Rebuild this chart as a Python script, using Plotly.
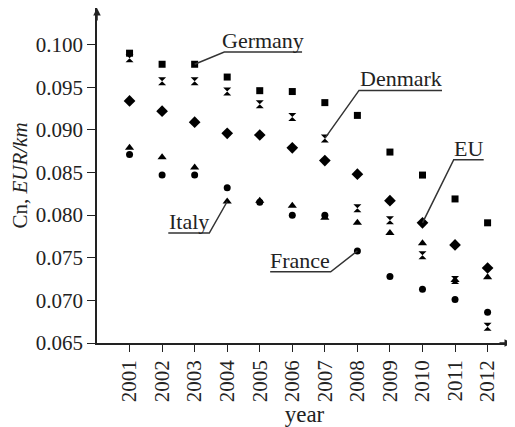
import plotly.graph_objects as go

years = list(range(2001, 2013))
germany = [0.0990, 0.0977, 0.0977, 0.0962, 0.0946, 0.0945, 0.0932, 0.0917, 0.0874, 0.0847, 0.0819, 0.0791]
denmark = [0.0984, 0.0957, 0.0957, 0.0945, 0.0930, 0.0915, 0.0890, 0.0808, 0.0794, 0.0753, 0.0724, 0.0669]
eu = [0.0934, 0.0922, 0.0909, 0.0896, 0.0894, 0.0879, 0.0864, 0.0848, 0.0817, 0.0791, 0.0765, 0.0738]
italy = [0.0879, 0.0868, 0.0856, 0.0816, 0.0817, 0.0811, 0.0797, 0.0791, 0.0779, 0.0767, 0.0724, 0.0727]
france = [0.0871, 0.0847, 0.0847, 0.0832, 0.0815, 0.0800, 0.0800, 0.0758, 0.0728, 0.0713, 0.0701, 0.0686]

series = [
    ("Germany", germany, "square", 7),
    ("Denmark", denmark, "hourglass", 8),
    ("EU", eu, "diamond", 9),
    ("Italy", italy, "triangle-up", 8),
    ("France", france, "circle", 7),
]

# label callouts: (name, values, year index, elbow x, elbow/underline y, underline end x)
callouts = [
    ("Germany", germany, 2, 2003.91, 0.09914, 2006.30),
    ("Denmark", denmark, 6, 2008.05, 0.09463, 2010.60),
    ("EU", eu, 9, 2010.96, 0.08650, 2011.88),
    ("France", france, 7, 2007.18, 0.07335, 2005.32),
    ("Italy", italy, 3, 2003.45, 0.07789, 2002.19),
]

fig = go.Figure()
for name, vals, sym, size in series:
    fig.add_trace(go.Scatter(x=years, y=vals, mode="markers", name=name,
                             marker=dict(symbol=sym, size=size, color="black",
                                         line=dict(width=0))))

font = "Liberation Serif"
for name, vals, idx, ex, ey, ux in callouts:
    fig.add_shape(type="path",
                  path=f"M {years[idx]},{vals[idx]} L {ex},{ey} L {ux},{ey}",
                  xref="x", yref="y", line=dict(color="#333", width=1.5))
    fig.add_annotation(x=(ex + ux) / 2, y=ey, text=name, showarrow=False,
                       yanchor="bottom", xanchor="center", yshift=-3,
                       font=dict(family=font, size=22, color="#222"))

# axis arrows
fig.add_annotation(x=2012.75, y=0.065, ax=-14, ay=0, text="", showarrow=True,
                   arrowhead=2, arrowsize=1, arrowwidth=1.5, arrowcolor="#222",
                   xref="x", yref="y")
fig.add_annotation(x=2000, y=0.1043, ax=0, ay=14, text="", showarrow=True,
                   arrowhead=2, arrowsize=1, arrowwidth=1.5, arrowcolor="#222",
                   xref="x", yref="y")

fig.update_layout(
    width=507, height=419,
    margin=dict(l=89, r=3, t=0, b=84),
    paper_bgcolor="white", plot_bgcolor="white",
    showlegend=False,
    font=dict(family=font, size=21, color="#222"),
)
fig.update_xaxes(range=[2000, 2012.75], tickvals=years, ticktext=[str(y) for y in years],
                 tickangle=-90, ticks="outside", ticklen=7, tickcolor="#222",
                 showline=True, linecolor="#222", linewidth=1.5, showgrid=False,
                 zeroline=False, automargin=False,
                 title=dict(text="year", font=dict(size=23), standoff=2),
                 tickfont=dict(size=21))
fig.update_yaxes(range=[0.065, 0.1043], tick0=0.065, dtick=0.005, tickformat=".3f",
                 ticks="outside", ticklen=8, tickcolor="#222",
                 showline=True, linecolor="#222", linewidth=1.5, showgrid=False,
                 zeroline=False, automargin=False,
                 title=dict(text="Cn, <i>EUR/km</i>", font=dict(size=21), standoff=6),
                 tickfont=dict(size=21))

fig.write_html("out.html")
